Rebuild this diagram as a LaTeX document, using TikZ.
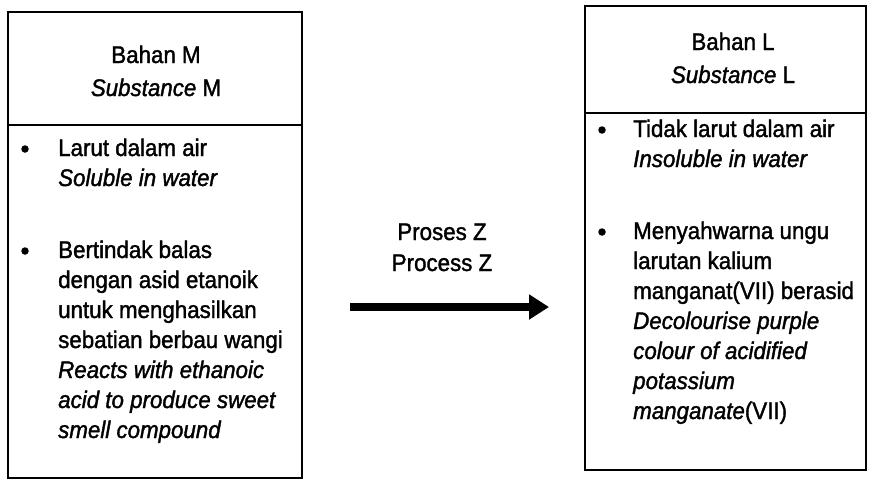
\documentclass[tikz,border=0pt]{standalone}
\usepackage{fontspec}
\setmainfont[FakeStretch=0.93,FakeBold=1.5]{Liberation Sans}
\usetikzlibrary{arrows.meta}
\begin{document}
\begin{tikzpicture}[x=1pt,y=-1pt,
  boxline/.style={draw=black,line width=1.8pt},
  head/.style={inner sep=0pt,align=center,anchor=base,font=\fontsize{24}{33}\selectfont},
  txt/.style={inner sep=0pt,align=left,anchor=base west,font=\fontsize{24}{30}\selectfont},
  bul/.style={circle,fill=black,inner sep=0pt,minimum size=7.5pt},
  flow/.style={line width=8.5pt,-{Triangle[length=20pt,width=24pt]}}]
\useasboundingbox[fill=white] (0,0) rectangle (869,483);
% left box
\draw[boxline] (8,12) rectangle (302,478);
\draw[boxline] (8,125) -- (302,125);
\node[head] (hm) at (156,96) {Bahan M\\\textit{Substance} M};
\node[bul] (bm1) at (25,149) {};
\node[txt] (tm1) at (58,186) {Larut dalam air\\\textit{Soluble in water}};
\node[bul] (bm2) at (25,251) {};
\node[txt] (tm2) at (58,438) {Bertindak balas\\dengan asid etanoik\\untuk menghasilkan\\sebatian berbau wangi\\\textit{Reacts with ethanoic}\\\textit{acid to produce sweet}\\\textit{smell compound}};
% right box
\draw[boxline] (585,6) rectangle (866,470);
\draw[boxline] (585,113) -- (866,113);
\node[head] (hl) at (733,83) {Bahan L\\\textit{Substance} L};
\node[bul] (bl1) at (602,130) {};
\node[txt] (tl1) at (633,167) {Tidak larut dalam air\\\textit{Insoluble in water}};
\node[bul] (bl2) at (602,232) {};
\node[txt] (tl2) at (633,419) {Menyahwarna ungu\\larutan kalium\\manganat(VII) berasid\\\textit{Decolourise purple}\\\textit{colour of acidified}\\\textit{potassium}\\\textit{manganate}(VII)};
% process
\node[head,font=\fontsize{24}{31}\selectfont] (pz) at (442,271) {Proses Z\\Process Z};
\coordinate (as) at (350,307);
\coordinate (ae) at (549,307);
\draw[flow] (as) -- (ae);
\end{tikzpicture}
\end{document}
